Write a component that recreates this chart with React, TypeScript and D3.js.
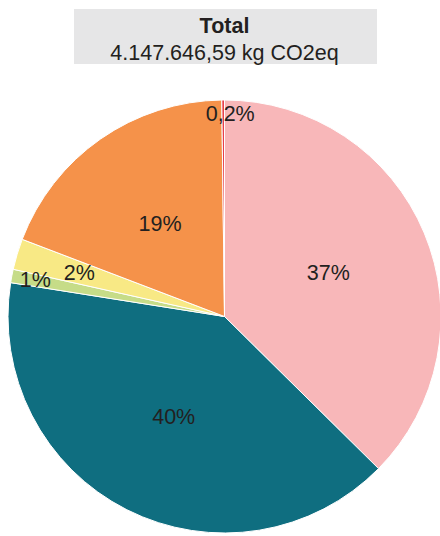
import * as d3 from 'd3';
import React, { useRef, useEffect } from 'react';

// share of total emissions, in percent, clockwise from 12 o'clock
const categories = ['A', 'B', 'C', 'D', 'E', 'F'];
const shares = [37.4, 40.1, 1.0, 2.3, 19.0, 0.2];
const colors = ['#f8b7b9', '#0f6e80', '#c6dc88', '#f8e985', '#f5924a', '#e8404a'];
const titleLines = ['Total', '4.147.646,59 kg CO2eq'];

const W = 440;
const H = 536;

const fmt = (v: number) =>
  v < 1 ? `${v.toFixed(1).replace('.', ',')}%` : `${Math.round(v)}%`;

const App = () => {
  const ref = useRef<SVGSVGElement>(null);

  useEffect(() => {
    const svg = d3.select(ref.current);
    svg.selectAll('*').remove();

    const cx = 224.5;
    const cy = 316.5;
    const radius = 216.5;
    const font = '"Liberation Sans", Arial, Helvetica, sans-serif';

    // title box
    const box = svg.append('g');
    box.append('rect')
      .attr('x', 74).attr('y', 9)
      .attr('width', 303).attr('height', 55)
      .attr('fill', '#e6e6e7');
    box.append('text')
      .attr('x', cx).attr('y', 32.5)
      .attr('text-anchor', 'middle')
      .style('font-family', font).style('font-size', '21.5px')
      .style('font-weight', 'bold').style('fill', '#231f20')
      .text(titleLines[0]);
    box.append('text')
      .attr('x', cx).attr('y', 59.5)
      .attr('text-anchor', 'middle')
      .style('font-family', font).style('font-size', '21.5px')
      .style('fill', '#231f20')
      .text(titleLines[1]);

    const data = categories.map((c, i) => ({ label: c, value: shares[i], color: colors[i] }));

    const pie = d3.pie<any>().value((d) => d.value).sort(null);
    const arc = d3.arc<any>().innerRadius(0).outerRadius(radius);
    const arcs = pie(data);

    const g = svg.append('g').attr('transform', `translate(${cx},${cy})`);

    g.selectAll('path')
      .data(arcs)
      .enter()
      .append('path')
      .attr('d', arc)
      .attr('fill', (d) => d.data.color)
      .attr('stroke', '#fff')
      .attr('stroke-width', 1);

    // small slices get their label pushed outward
    const labelR = (v: number) => (v < 0.5 ? 0.935 : v < 1.5 ? 0.89 : v < 5 ? 0.7 : 0.52) * radius;

    g.selectAll('text')
      .data(arcs)
      .enter()
      .append('text')
      .attr('text-anchor', 'middle')
      .attr('dominant-baseline', 'central')
      .style('font-family', font)
      .style('font-size', '21.5px')
      .style('fill', '#231f20')
      .attr('transform', (d) => {
        const a = (d.startAngle + d.endAngle) / 2;
        const r = labelR(d.data.value);
        const nudge = d.data.value < 0.5 ? 7 : 0;
        return `translate(${Math.sin(a) * r + nudge},${-Math.cos(a) * r})`;
      })
      .text((d) => fmt(d.data.value));
  }, []);

  return (
    <svg
      ref={ref}
      width={W}
      height={H}
      style={{ position: 'fixed', left: 0, top: 0, background: '#fff' }}
    />
  );
};

export default App;
